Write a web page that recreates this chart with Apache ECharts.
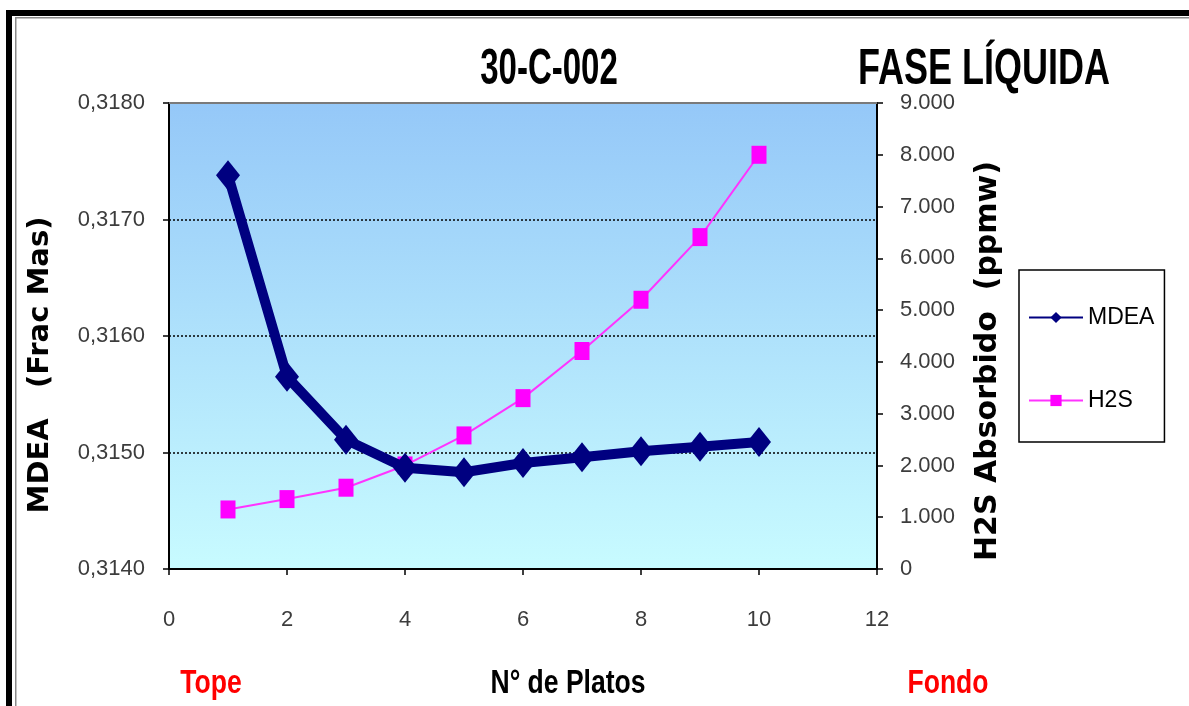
<!DOCTYPE html>
<html>
<head>
<meta charset="utf-8">
<script src="https://cdn.jsdelivr.net/npm/echarts@6/dist/echarts.min.js"></script>
<style>
  html, body { margin: 0; padding: 0; background: #fff; }
  #chart { width: 1189px; height: 706px; }
</style>
</head>
<body>
<div id="chart"></div>
<script>
// Plate number (top of column = 1, bottom = 10)
const platos = [1, 2, 3, 4, 5, 6, 7, 8, 9, 10];
// MDEA mass fraction in the liquid phase
const mdea = [0.31738, 0.31565, 0.31511, 0.31487, 0.31483, 0.31491, 0.31496, 0.31501, 0.31505, 0.31509];
// Absorbed H2S, ppmw
const h2s = [1150, 1350, 1570, 2000, 2580, 3300, 4210, 5200, 6410, 8000];

const xTicks = [0, 2, 4, 6, 8, 10, 12];
const mdeaTicks = [0.3140, 0.3150, 0.3160, 0.3170, 0.3180];
const h2sTicks = [0, 1000, 2000, 3000, 4000, 5000, 6000, 7000, 8000, 9000];

const SANS = "'Liberation Sans', Arial, sans-serif";
const BOLDW = "'DejaVu Sans', 'Liberation Sans', sans-serif";

const chart = echarts.init(document.getElementById('chart'), null, { renderer: 'canvas' });

function pairs(ys) { return platos.map((x, i) => [x, ys[i]]); }

// condensed bold text helper for headings
function label(text, x, y, size, color, sx) {
  return {
    type: 'text', x: x, y: y, scaleX: sx,
    style: { text: text, font: 'bold ' + size + 'px ' + SANS, fill: color, textAlign: 'center', textVerticalAlign: 'middle' }
  };
}

const option = {
  backgroundColor: '#ffffff',
  animation: false,
  grid: {
    left: 169, right: 312, top: 103, height: 466,
    show: true,
    borderWidth: 0,
    backgroundColor: new echarts.graphic.LinearGradient(0, 0, 0, 1, [
      { offset: 0, color: '#95c8f8' },
      { offset: 1, color: '#c8fbff' }
    ])
  },
  xAxis: [{
    type: 'value', min: xTicks[0], max: xTicks[xTicks.length - 1], interval: 2,
    axisLine: { show: true, onZero: false, lineStyle: { color: '#000', width: 2 } },
    axisTick: { show: true, length: 6, inside: false, lineStyle: { color: '#000', width: 1.5 } },
    axisLabel: { margin: 40, fontFamily: SANS, fontSize: 22, color: '#3c3c3c' },
    splitLine: { show: false }
  }, {
    type: 'value', position: 'top', min: 0, max: 12,
    axisLine: { show: true, onZero: false, lineStyle: { color: '#7a7a7a', width: 2 } },
    axisTick: { show: false }, axisLabel: { show: false }, splitLine: { show: false }
  }],
  yAxis: [{
    type: 'value', min: mdeaTicks[0], max: mdeaTicks[mdeaTicks.length - 1], interval: 0.001,
    axisLine: { show: true, onZero: false, lineStyle: { color: '#000', width: 2 } },
    axisTick: { show: true, length: 6, lineStyle: { color: '#000', width: 1.5 } },
    axisLabel: {
      margin: 24, fontFamily: SANS, fontSize: 22, color: '#3c3c3c',
      formatter: v => v.toFixed(4).replace('.', ',')
    },
    splitLine: { show: true, lineStyle: { color: '#000', width: 1.5, type: [2, 2] } }
  }, {
    type: 'value', min: h2sTicks[0], max: h2sTicks[h2sTicks.length - 1], interval: 1000,
    position: 'right',
    axisLine: { show: true, onZero: false, lineStyle: { color: '#000', width: 2 } },
    axisTick: { show: true, length: 6, lineStyle: { color: '#000', width: 1.5 } },
    axisLabel: {
      margin: 23, fontFamily: SANS, fontSize: 22, color: '#3c3c3c',
      formatter: v => v === 0 ? '0' : (v / 1000).toFixed(0) + '.000'
    },
    splitLine: { show: false }
  }],
  legend: {
    orient: 'vertical',
    left: 1019, top: 270,
    padding: [36, 10, 30, 9],
    itemGap: 60,
    itemWidth: 54, itemHeight: 14,
    borderColor: '#000', borderWidth: 1.5,
    backgroundColor: '#ffffff',
    textStyle: { fontFamily: SANS, fontSize: 23, color: '#000' },
    lineStyle: { width: 2 },
    data: [
      { name: 'MDEA', itemStyle: { color: '#000080' } },
      { name: 'H2S', itemStyle: { color: '#ff00ff' } }
    ]
  },
  series: [{
    name: 'H2S', type: 'line', xAxisIndex: 0, yAxisIndex: 1,
    data: pairs(h2s),
    symbol: 'rect', symbolSize: [15, 18],
    lineStyle: { color: '#ff33ff', width: 2 },
    itemStyle: { color: '#ff00ff' },
    z: 3
  }, {
    name: 'MDEA', type: 'line', xAxisIndex: 0, yAxisIndex: 0,
    data: pairs(mdea),
    symbol: 'diamond', symbolSize: [24, 30],
    lineStyle: { color: '#000080', width: 10, join: 'round' },
    itemStyle: { color: '#000080' },
    z: 4
  }],
  graphic: [
    // outer frame
    { type: 'rect', shape: { x: 6, y: 10, width: 1190, height: 6 }, style: { fill: '#000' } },
    { type: 'rect', shape: { x: 6, y: 10, width: 6, height: 700 }, style: { fill: '#000' } },
    { type: 'rect', shape: { x: 15, y: 17, width: 1180, height: 1.5 }, style: { fill: '#8a8a8a' } },
    { type: 'rect', shape: { x: 15, y: 17, width: 1.5, height: 700 }, style: { fill: '#8a8a8a' } },
    // titles
    label('30-C-002', 549, 70, 50, '#000', 0.66),
    label('FASE LÍQUIDA', 984, 70, 50, '#000', 0.72),
    // axis names
    { type: 'text', x: 40, y: 365, rotation: Math.PI / 2, style: { text: 'MDEA   (Frac Mas)', font: "bold 29px " + BOLDW, fill: '#000', textAlign: 'center', textVerticalAlign: 'middle' } },
    { type: 'text', x: 988, y: 361, rotation: Math.PI / 2, style: { text: 'H2S Absorbido  (ppmw)', font: "bold 30px " + BOLDW, fill: '#000', textAlign: 'center', textVerticalAlign: 'middle' } },
    // bottom labels
    label('Tope', 211, 684, 34, '#ff0000', 0.78),
    label('N° de Platos', 568, 684, 34, '#000', 0.78),
    label('Fondo', 948, 684, 34, '#ff0000', 0.78)
  ]
};

chart.setOption(option);
</script>
</body>
</html>
